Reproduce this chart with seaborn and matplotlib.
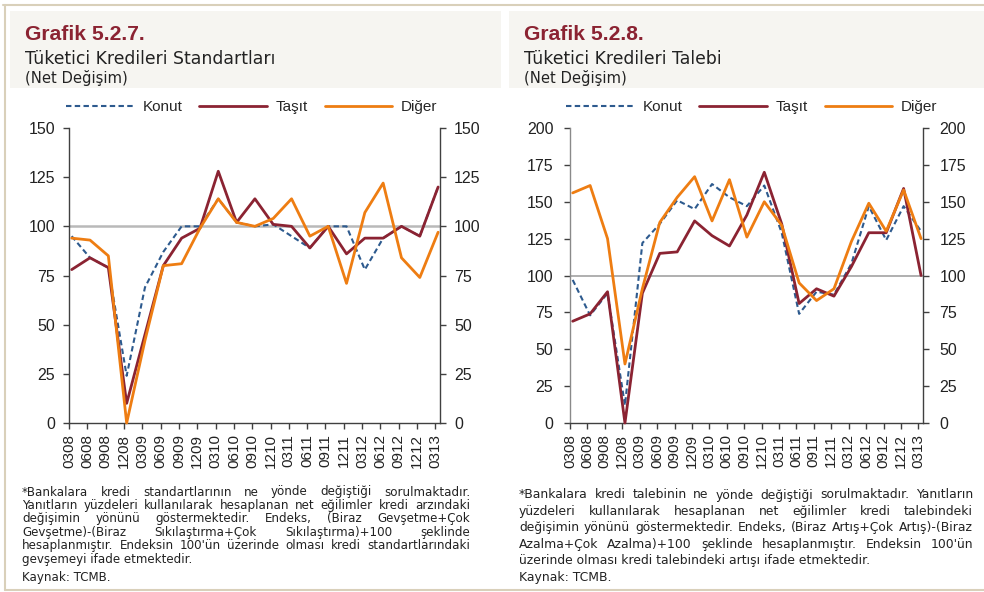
import numpy as np
import pandas as pd
import matplotlib
matplotlib.use("Agg")
import matplotlib.pyplot as plt
import seaborn as sns
from matplotlib.patches import Rectangle
from matplotlib.lines import Line2D

quarters = ["0308", "0608", "0908", "1208", "0309", "0609", "0909", "1209",
            "0310", "0610", "0910", "1210", "0311", "0611", "0911", "1211",
            "0312", "0612", "0912", "1212", "0313"]

# Grafik 5.2.7 - standartlar
std_konut = [95, 84, 79, 24, 69, 87, 100, 100, 114, 102, 100, 101, 95, 89, 100, 100, 78, 94, 100, 95, 120]
std_tasit = [78, 84, 79, 10, 45, 80, 94, 99, 128, 102, 114, 101, 100, 89, 100, 86, 94, 94, 100, 95, 120]
std_diger = [94, 93, 85, 0, 42, 80, 81, 99, 114, 102, 100, 104, 114, 95, 100, 71, 107, 122, 84, 74, 97]

# Grafik 5.2.8 - talep
dem_konut = [97, 73, 88, 12, 122, 135, 151, 145, 162, 153, 147, 161, 129, 74, 89, 87, 108, 147, 124, 147, 130]
dem_tasit = [69, 74, 89, 0, 88, 115, 116, 137, 127, 120, 141, 170, 135, 81, 91, 86, 106, 129, 129, 159, 100]
dem_diger = [156, 161, 125, 40, 91, 136, 153, 167, 137, 165, 126, 150, 134, 95, 83, 91, 123, 149, 130, 158, 125]

C_KONUT = "#2d5a8e"
C_TASIT = "#8b2332"
C_DIGER = "#ee7d12"
C_FRAME = "#d9d0ba"
C_HEAD = "#f6f5f1"

W, H = 984, 592
sns.set_theme(style="white")
plt.rcParams["font.family"] = ["Liberation Sans", "DejaVu Sans"]

fig = plt.figure(figsize=(W / 100, H / 100), dpi=100)
fig.patch.set_facecolor("white")


def fx(px):
    return px / W


def fy(py):
    return 1 - py / H


# frame and header bands
fig.patches.append(Rectangle((fx(10), fy(88)), fx(501 - 10), (88 - 11) / H,
                             transform=fig.transFigure, facecolor=C_HEAD, edgecolor="none", zorder=0))
fig.patches.append(Rectangle((fx(509), fy(88)), fx(984 - 509), (88 - 11) / H,
                             transform=fig.transFigure, facecolor=C_HEAD, edgecolor="none", zorder=0))
for xs, ys in [([3, 984], [5, 5]), ([4.5, 4.5], [5, 590]), ([4.5, 984], [590, 590])]:
    fig.lines.append(Line2D([fx(v) for v in xs], [fy(v) for v in ys], transform=fig.transFigure,
                            color=C_FRAME, linewidth=1.5))


def panel(left_px, right_px, konut, tasit, diger, ymax, ystep, ref_lw, ref_col, lspine_col, ypad):
    ax = fig.add_axes([fx(left_px), fy(423), fx(right_px - left_px), (423 - 128) / H])
    df = pd.DataFrame({"pos": np.arange(len(quarters)), "Konut": konut, "Taşıt": tasit, "Diğer": diger})
    ax.axhline(100, color=ref_col, linewidth=ref_lw, zorder=1)
    sns.lineplot(data=df, x="pos", y="Konut", ax=ax, color=C_KONUT, linewidth=1.5, zorder=3, clip_on=False)
    ax.lines[-1].set_dashes((2.6, 1.6))
    sns.lineplot(data=df, x="pos", y="Taşıt", ax=ax, color=C_TASIT, linewidth=2.0, zorder=4, clip_on=False)
    sns.lineplot(data=df, x="pos", y="Diğer", ax=ax, color=C_DIGER, linewidth=2.0, zorder=5, clip_on=False)

    step = (right_px - left_px) / 20.25
    off = 2.7 / step
    ax.set_xlim(-off, 20 - off + (right_px - left_px - 20 * step) / step)
    ax.set_ylim(0, ymax)
    ax.set_yticks(np.arange(0, ymax + 1, ystep))
    ax.set_xticks(df["pos"] - off)
    ax.set_xticklabels(quarters, rotation=90)
    ax.set_xlabel("")
    ax.set_ylabel("")
    ax.tick_params(axis="y", left=True, right=True, labelleft=True, labelright=True,
                   direction="out", length=4, width=1, color="#404040", labelsize=11.5,
                   labelcolor="#222222", pad=ypad)
    ax.tick_params(axis="x", bottom=True, direction="out", length=4, width=1,
                   color="#404040", labelsize=11, labelcolor="#222222", pad=4)
    ax.spines["top"].set_visible(False)
    ax.spines["left"].set_color(lspine_col)
    ax.spines["right"].set_color("#404040")
    ax.spines["bottom"].set_color("#404040")
    for s in ["left", "right", "bottom"]:
        ax.spines[s].set_linewidth(1.0)
    ax.set_facecolor("white")
    return ax


ax1 = panel(69, 440, std_konut, std_tasit, std_diger, 150, 25, 1.8, "#b9b9b9", "#404040", 6)
ax2 = panel(570, 922.7, dem_konut, dem_tasit, dem_diger, 200, 25, 1.1, "#9a9a9a", "#8a8a8a", 8)

# legends
handles = [Line2D([], [], color=C_KONUT, linewidth=1.5, dashes=(2.6, 1.6)),
           Line2D([], [], color=C_TASIT, linewidth=2.0),
           Line2D([], [], color=C_DIGER, linewidth=2.0)]
for cx in [252, 752]:
    fig.legend(handles, ["Konut", "Taşıt", "Diğer"], loc="center", bbox_to_anchor=(fx(cx), fy(107)),
               ncol=3, frameon=False, fontsize=11, handlelength=4.4, handletextpad=0.6,
               columnspacing=1.1, borderaxespad=0)

# titles
TFONT = ["DejaVu Sans"]
for x0, num, sub in [(25, "Grafik 5.2.7.", "Tüketici Kredileri Standartları"),
                     (524, "Grafik 5.2.8.", "Tüketici Kredileri Talebi")]:
    fig.text(fx(x0), fy(34), num, fontsize=15.2, fontweight="bold", color=C_TASIT,
             family=["Liberation Sans"], va="center")
    fig.text(fx(x0), fy(59), sub, fontsize=12.4, color="#222222", family=TFONT, va="center")
    fig.text(fx(x0), fy(78), "(Net Değişim)", fontsize=10.6, color="#222222", family=TFONT, va="center")

renderer = fig.canvas.get_renderer()


def note_line(text, x0, x1, y, size, justify):
    if not justify:
        fig.text(fx(x0), fy(y), text, fontsize=size, color="#222222", family=TFONT, va="center")
        return
    words = text.split()
    objs = [fig.text(0, fy(y), w, fontsize=size, color="#222222", family=TFONT, va="center") for w in words]
    widths = [o.get_window_extent(renderer).width for o in objs]
    gap = max((x1 - x0 - sum(widths)) / (len(words) - 1), 2.0)
    x = x0
    for o, w in zip(objs, widths):
        o.set_x(fx(x))
        x += w + gap


left_notes = [
    ("*Bankalara kredi standartlarının ne yönde değiştiği sorulmaktadır.", True),
    ("Yanıtların yüzdeleri kullanılarak hesaplanan net eğilimler kredi arzındaki", True),
    ("değişimin yönünü göstermektedir. Endeks, (Biraz Gevşetme+Çok", True),
    ("Gevşetme)-(Biraz Sıkılaştırma+Çok Sıkılaştırma)+100 şeklinde", True),
    ("hesaplanmıştır. Endeksin 100'ün üzerinde olması kredi standartlarındaki", True),
    ("gevşemeyi ifade etmektedir.", False),
]
right_notes = [
    ("*Bankalara kredi talebinin ne yönde değiştiği sorulmaktadır. Yanıtların", True),
    ("yüzdeleri kullanılarak hesaplanan net eğilimler kredi talebindeki", True),
    ("değişimin yönünü göstermektedir.  Endeks, (Biraz Artış+Çok Artış)-(Biraz", True),
    ("Azalma+Çok Azalma)+100 şeklinde hesaplanmıştır. Endeksin 100'ün", True),
    ("üzerinde olması kredi talebindeki artışı ifade etmektedir.", False),
]
for i, (t, j) in enumerate(left_notes):
    note_line(t, 22, 470, 492 + 13.4 * i, 8.6, j)
note_line("Kaynak: TCMB.", 22, 470, 577, 8.6, False)
for i, (t, j) in enumerate(right_notes):
    note_line(t, 519, 973, 495 + 16.4 * i, 8.9, j)
note_line("Kaynak: TCMB.", 519, 973, 577, 8.9, False)

fig.savefig("out.png", dpi=100, facecolor="white")
